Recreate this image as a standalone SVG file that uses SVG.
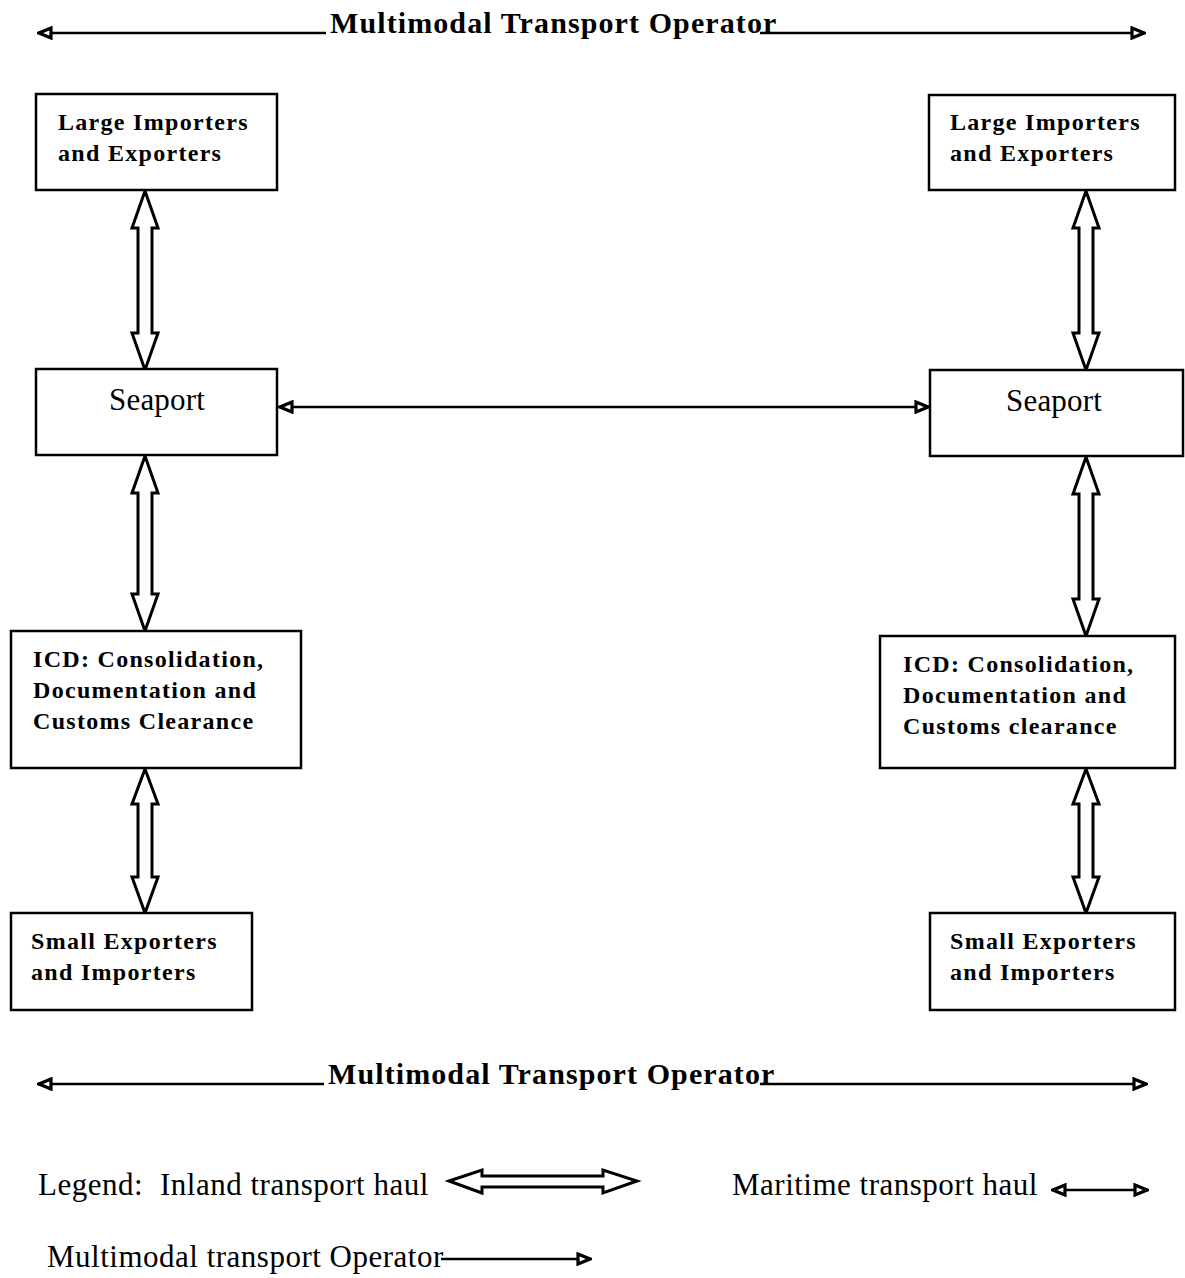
<svg xmlns="http://www.w3.org/2000/svg" width="1185" height="1278" viewBox="0 0 1185 1278">
  <defs>
    <marker id="tri" viewBox="0 0 16 14" refX="15" refY="7" markerWidth="16" markerHeight="14" orient="auto-start-reverse" markerUnits="userSpaceOnUse">
      <path d="M2,2 L14,7 L2,12 Z" fill="#fff" stroke="#000" stroke-width="3.2" stroke-linejoin="miter"/>
    </marker>
    <style>
      .box { fill: #fff; stroke: #000; stroke-width: 2.5; }
      .lbl { font-family: "Liberation Serif", "Times New Roman", serif; font-weight: bold; font-size: 24px; letter-spacing: 1.3px; fill: #000; }
      .port { font-family: "Liberation Serif", "Times New Roman", serif; font-size: 31px; letter-spacing: 0.2px; fill: #000; }
      .title { font-family: "Liberation Serif", "Times New Roman", serif; font-weight: bold; font-size: 30px; letter-spacing: 1.1px; fill: #000; }
      .leg { font-family: "Liberation Serif", "Times New Roman", serif; font-size: 31px; letter-spacing: 0.5px; fill: #000; }
      .line { fill: none; stroke: #000; stroke-width: 2.5; }
      .hollow { fill: #fff; stroke: #000; stroke-width: 3; stroke-linejoin: miter; }
    </style>
  </defs>

  <!-- operator span, top -->
  <g id="operator-top">
    <line class="line" x1="38" y1="33" x2="1145" y2="33" marker-start="url(#tri)" marker-end="url(#tri)"/>
    <rect x="326" y="8" width="434" height="28" fill="#fff"/>
    <text class="title" x="330" y="33">Multimodal Transport Operator</text>
  </g>

  <!-- connectors -->
  <g id="connectors">
    <!-- inland hauls, left column -->
    <polygon class="hollow" points="145,191 158,228 152,228 152,333 158,333 145,370 132,333 138,333 138,228 132,228"/>
    <polygon class="hollow" points="145,456 158,493 152,493 152,594 158,594 145,631 132,594 138,594 138,493 132,493"/>
    <polygon class="hollow" points="145,769 158,804 152,804 152,877 158,877 145,913 132,877 138,877 138,804 132,804"/>
    <!-- inland hauls, right column -->
    <polygon class="hollow" points="1086,191 1099,228 1093,228 1093,333 1099,333 1086,370 1073,333 1079,333 1079,228 1073,228"/>
    <polygon class="hollow" points="1086,457 1099,494 1093,494 1093,599 1099,599 1086,636 1073,599 1079,599 1079,494 1073,494"/>
    <polygon class="hollow" points="1086,769 1099,804 1093,804 1093,877 1099,877 1086,913 1073,877 1079,877 1079,804 1073,804"/>
    <!-- maritime haul between seaports -->
    <line class="line" x1="279" y1="407" x2="929" y2="407" marker-start="url(#tri)" marker-end="url(#tri)"/>
  </g>

  <!-- left column nodes -->
  <g id="large-left">
    <rect class="box" x="36" y="94" width="241" height="96"/>
    <text class="lbl" x="58" y="130">Large Importers</text>
    <text class="lbl" x="58" y="161">and Exporters</text>
  </g>
  <g id="seaport-left">
    <rect class="box" x="36" y="369" width="241" height="86"/>
    <text class="port" x="109" y="410">Seaport</text>
  </g>
  <g id="icd-left">
    <rect class="box" x="11" y="631" width="290" height="137"/>
    <text class="lbl" x="33" y="667">ICD: Consolidation,</text>
    <text class="lbl" x="33" y="698">Documentation and</text>
    <text class="lbl" x="33" y="729">Customs Clearance</text>
  </g>
  <g id="small-left">
    <rect class="box" x="11" y="913" width="241" height="97"/>
    <text class="lbl" x="31" y="949">Small Exporters</text>
    <text class="lbl" x="31" y="980">and Importers</text>
  </g>

  <!-- right column nodes -->
  <g id="large-right">
    <rect class="box" x="929" y="95" width="246" height="95"/>
    <text class="lbl" x="950" y="130">Large Importers</text>
    <text class="lbl" x="950" y="161">and Exporters</text>
  </g>
  <g id="seaport-right">
    <rect class="box" x="930" y="370" width="253" height="86"/>
    <text class="port" x="1006" y="411">Seaport</text>
  </g>
  <g id="icd-right">
    <rect class="box" x="880" y="636" width="295" height="132"/>
    <text class="lbl" x="903" y="672">ICD: Consolidation,</text>
    <text class="lbl" x="903" y="703">Documentation and</text>
    <text class="lbl" x="903" y="734">Customs clearance</text>
  </g>
  <g id="small-right">
    <rect class="box" x="930" y="913" width="245" height="97"/>
    <text class="lbl" x="950" y="949">Small Exporters</text>
    <text class="lbl" x="950" y="980">and Importers</text>
  </g>

  <!-- operator span, bottom -->
  <g id="operator-bottom">
    <line class="line" x1="38" y1="1084" x2="1147" y2="1084" marker-start="url(#tri)" marker-end="url(#tri)"/>
    <rect x="324" y="1059" width="436" height="28" fill="#fff"/>
    <text class="title" x="328" y="1084">Multimodal Transport Operator</text>
  </g>

  <!-- legend -->
  <g id="legend">
    <text class="leg" x="38" y="1195">Legend:<tspan x="160">Inland transport haul</tspan></text>
    <polygon class="hollow" points="449,1181 482,1170 482,1176 603,1176 603,1170 637,1181 603,1193 603,1187 482,1187 482,1193"/>
    <text class="leg" x="732" y="1195">Maritime transport haul</text>
    <line class="line" x1="1052" y1="1190" x2="1148" y2="1190" marker-start="url(#tri)" marker-end="url(#tri)"/>
    <text class="leg" x="47" y="1267">Multimodal transport Operator</text>
    <line class="line" x1="441" y1="1259" x2="591" y2="1259" marker-end="url(#tri)"/>
  </g>
</svg>
